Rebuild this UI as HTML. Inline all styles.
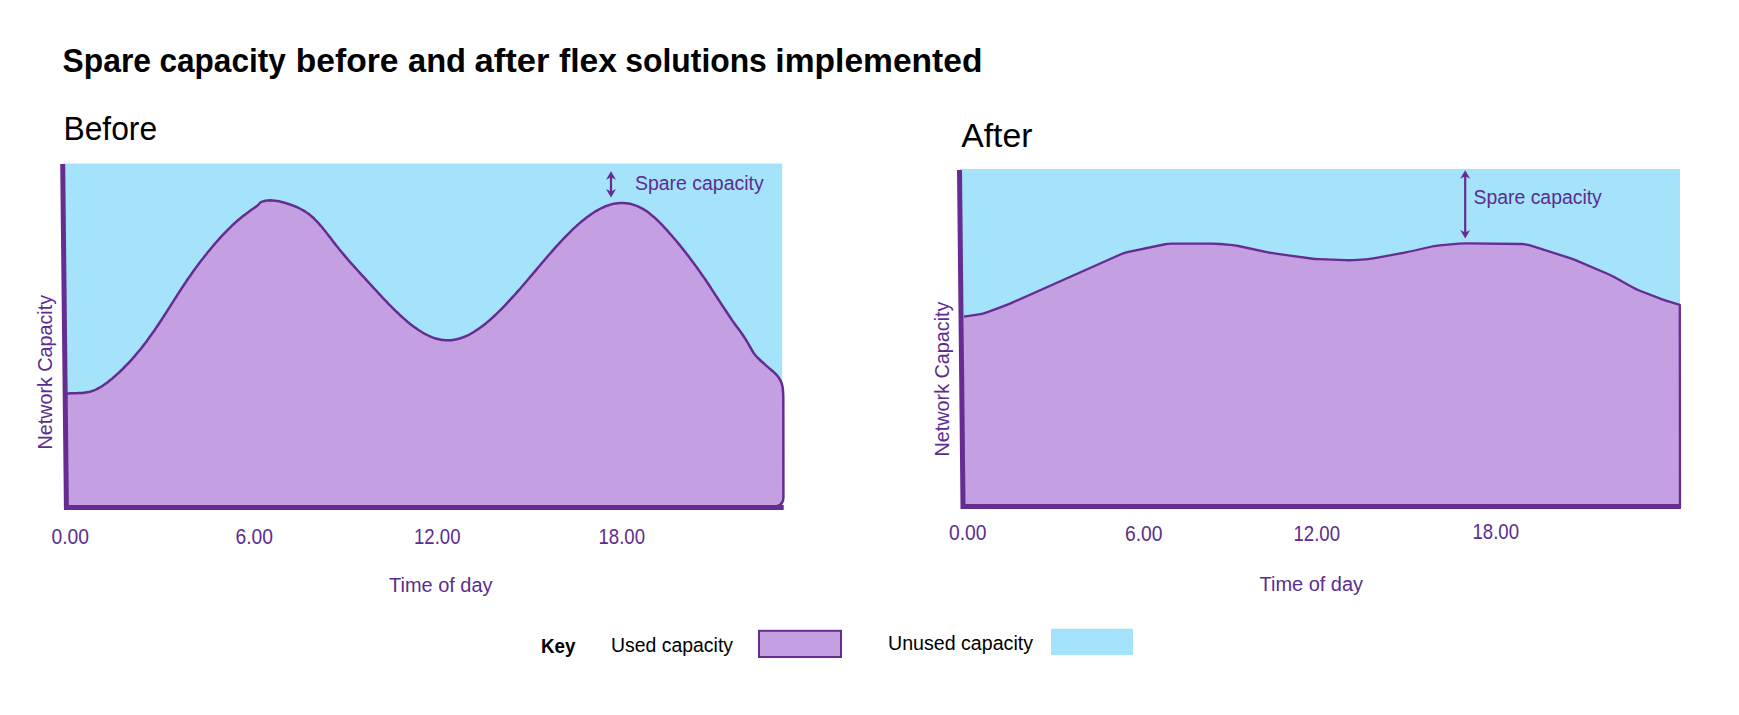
<!DOCTYPE html>
<html lang="en">
<head>
<meta charset="utf-8">
<title>Spare capacity before and after flex solutions implemented</title>
<style>
html,body{margin:0;padding:0;background:#fff;}
body{width:1739px;height:715px;overflow:hidden;font-family:"Liberation Sans",sans-serif;}
svg{display:block;}
</style>
</head>
<body>
<svg width="1739" height="715" viewBox="0 0 1739 715" font-family="'Liberation Sans', sans-serif">
<rect width="1739" height="715" fill="#fff"/>
<path d="M62.7,163.6 L782.2,163.4 L782.2,507 L66.4,507 Z" fill="#a5e3fa"/>
<path d="M66.0,393.6 C66.5,393.6 68.0,393.4 69.0,393.4 C70.0,393.3 71.0,393.3 72.0,393.2 C73.0,393.2 74.0,393.2 75.0,393.2 C76.0,393.2 77.0,393.1 78.0,393.1 C79.0,393.1 80.0,393.0 81.0,393.0 C82.0,392.9 83.0,392.9 84.0,392.7 C85.0,392.6 86.0,392.5 87.0,392.3 C88.0,392.1 89.0,391.9 90.0,391.7 C91.0,391.4 92.0,391.1 93.0,390.7 C94.0,390.4 95.0,390.0 96.0,389.5 C97.0,389.0 98.0,388.5 99.0,387.9 C100.0,387.4 101.0,386.8 102.0,386.2 C103.0,385.5 104.0,384.8 105.0,384.1 C106.0,383.4 107.0,382.7 108.0,381.9 C109.0,381.2 110.0,380.4 111.0,379.6 C112.0,378.8 113.0,377.9 114.0,377.1 C114.9,376.2 115.9,375.3 116.9,374.4 C117.9,373.5 118.9,372.6 119.9,371.7 C120.9,370.7 121.9,369.8 122.9,368.8 C123.9,367.8 124.9,366.8 125.9,365.7 C126.9,364.7 127.9,363.7 128.9,362.6 C129.9,361.5 130.9,360.4 131.9,359.3 C132.9,358.2 133.9,357.0 134.9,355.9 C135.9,354.7 136.9,353.5 137.9,352.3 C138.9,351.1 139.9,349.9 140.9,348.7 C141.9,347.4 142.9,346.1 143.9,344.8 C144.9,343.5 145.9,342.2 146.9,340.9 C147.9,339.5 148.9,338.2 149.9,336.8 C150.9,335.4 151.9,334.0 152.9,332.6 C153.9,331.2 154.9,329.7 155.9,328.2 C156.9,326.8 157.9,325.3 158.9,323.8 C159.9,322.3 160.9,320.7 161.9,319.2 C162.9,317.6 163.9,316.1 164.9,314.5 C165.9,313.0 166.9,311.4 167.9,309.8 C168.9,308.3 169.9,306.7 170.9,305.1 C171.9,303.5 172.9,301.9 173.9,300.4 C174.9,298.8 175.9,297.2 176.9,295.7 C177.9,294.1 178.9,292.6 179.9,291.0 C180.9,289.5 181.9,288.0 182.9,286.5 C183.9,284.9 184.9,283.4 185.9,282.0 C186.9,280.5 187.9,279.0 188.9,277.6 C189.9,276.2 190.9,274.7 191.9,273.3 C192.9,271.9 193.9,270.5 194.9,269.1 C195.9,267.8 196.9,266.4 197.9,265.1 C198.9,263.7 199.9,262.4 200.9,261.1 C201.9,259.8 202.9,258.5 203.9,257.2 C204.9,255.9 205.9,254.7 206.9,253.4 C207.9,252.2 208.9,250.9 209.9,249.7 C210.9,248.5 211.9,247.3 212.8,246.2 C213.8,245.0 214.8,243.8 215.8,242.7 C216.8,241.5 217.8,240.4 218.8,239.3 C219.8,238.2 220.8,237.1 221.8,236.0 C222.8,234.9 223.8,233.9 224.8,232.8 C225.8,231.8 226.8,230.8 227.8,229.8 C228.8,228.8 229.8,227.8 230.8,226.8 C231.8,225.9 232.8,224.9 233.8,224.0 C234.8,223.1 235.8,222.2 236.8,221.3 C237.8,220.4 238.8,219.5 239.8,218.7 C240.8,217.9 241.8,217.1 242.8,216.3 C243.8,215.5 244.8,214.7 245.8,213.9 C246.8,213.2 247.8,212.5 248.8,211.7 C249.8,211.0 250.8,210.3 251.8,209.6 C252.8,208.9 253.8,208.2 254.8,207.4 C255.8,206.7 256.8,206.0 257.8,205.2 C258.8,204.3 259.8,203.0 260.8,202.3 C261.8,201.6 262.8,201.5 263.8,201.2 C264.8,200.9 265.8,200.7 266.8,200.6 C267.8,200.4 268.8,200.4 269.8,200.3 C270.8,200.3 271.8,200.3 272.8,200.4 C273.8,200.5 274.8,200.6 275.8,200.8 C276.8,200.9 277.8,201.1 278.8,201.3 C279.8,201.5 280.8,201.8 281.8,202.1 C282.8,202.3 283.8,202.6 284.8,202.9 C285.8,203.2 286.8,203.5 287.8,203.8 C288.8,204.1 289.8,204.4 290.8,204.8 C291.8,205.1 292.8,205.5 293.8,205.9 C294.8,206.3 295.8,206.7 296.8,207.1 C297.8,207.5 298.8,208.0 299.8,208.5 C300.8,209.0 301.8,209.5 302.8,210.1 C303.8,210.7 304.8,211.3 305.8,212.0 C306.8,212.6 307.8,213.3 308.8,214.1 C309.8,214.9 310.8,215.7 311.8,216.5 C312.8,217.4 313.8,218.3 314.8,219.3 C315.8,220.3 316.8,221.3 317.8,222.4 C318.8,223.5 319.8,224.7 320.8,225.8 C321.8,227.0 322.8,228.2 323.8,229.5 C324.8,230.7 325.8,232.0 326.8,233.3 C327.8,234.5 328.8,235.9 329.8,237.1 C330.8,238.4 331.8,239.8 332.8,241.1 C333.8,242.3 334.8,243.6 335.8,244.9 C336.8,246.2 337.8,247.4 338.8,248.7 C339.8,249.9 340.8,251.1 341.8,252.3 C342.8,253.5 343.8,254.7 344.8,255.9 C345.8,257.1 346.8,258.2 347.8,259.4 C348.8,260.5 349.8,261.7 350.8,262.8 C351.8,263.9 352.8,265.1 353.8,266.2 C354.8,267.3 355.8,268.4 356.8,269.5 C357.8,270.6 358.8,271.7 359.8,272.8 C360.8,273.9 361.8,275.0 362.8,276.1 C363.8,277.1 364.8,278.2 365.8,279.3 C366.8,280.4 367.8,281.5 368.8,282.6 C369.8,283.7 370.8,284.8 371.8,285.9 C372.8,287.0 373.8,288.1 374.8,289.1 C375.8,290.2 376.8,291.3 377.8,292.4 C378.8,293.5 379.8,294.6 380.8,295.6 C381.8,296.7 382.8,297.8 383.8,298.8 C384.8,299.9 385.8,300.9 386.8,302.0 C387.8,303.0 388.8,304.1 389.8,305.1 C390.8,306.1 391.8,307.1 392.8,308.1 C393.8,309.1 394.8,310.1 395.8,311.1 C396.8,312.0 397.8,313.0 398.8,313.9 C399.8,314.9 400.8,315.8 401.8,316.7 C402.8,317.6 403.8,318.5 404.8,319.4 C405.8,320.3 406.8,321.1 407.8,322.0 C408.8,322.8 409.8,323.6 410.8,324.4 C411.8,325.2 412.8,325.9 413.8,326.7 C414.8,327.4 415.8,328.1 416.8,328.8 C417.8,329.5 418.8,330.2 419.8,330.8 C420.8,331.5 421.8,332.1 422.8,332.7 C423.8,333.3 424.8,333.8 425.8,334.3 C426.8,334.9 427.8,335.4 428.8,335.8 C429.8,336.3 430.8,336.7 431.8,337.1 C432.8,337.5 433.8,337.9 434.8,338.2 C435.8,338.5 436.8,338.8 437.8,339.0 C438.8,339.3 439.8,339.5 440.8,339.7 C441.8,339.9 442.8,340.0 443.8,340.1 C444.8,340.2 445.8,340.2 446.8,340.3 C447.8,340.3 448.8,340.3 449.8,340.2 C450.8,340.2 451.8,340.1 452.8,339.9 C453.8,339.8 454.8,339.6 455.8,339.4 C456.8,339.2 457.8,339.0 458.8,338.7 C459.8,338.4 460.8,338.1 461.8,337.8 C462.8,337.4 463.8,337.1 464.8,336.6 C465.8,336.2 466.8,335.8 467.8,335.3 C468.8,334.8 469.8,334.3 470.8,333.7 C471.8,333.2 472.8,332.6 473.8,332.0 C474.8,331.4 475.8,330.8 476.8,330.1 C477.8,329.4 478.8,328.7 479.8,328.0 C480.8,327.3 481.8,326.6 482.8,325.8 C483.8,325.0 484.8,324.2 485.8,323.4 C486.8,322.6 487.8,321.8 488.8,320.9 C489.8,320.0 490.8,319.2 491.8,318.3 C492.8,317.4 493.8,316.4 494.8,315.5 C495.8,314.6 496.8,313.6 497.8,312.6 C498.8,311.7 499.8,310.7 500.8,309.7 C501.8,308.7 502.8,307.6 503.8,306.6 C504.8,305.6 505.8,304.5 506.8,303.4 C507.8,302.4 508.8,301.3 509.8,300.2 C510.8,299.1 511.8,298.0 512.8,296.9 C513.8,295.8 514.8,294.7 515.8,293.6 C516.8,292.4 517.8,291.3 518.8,290.2 C519.8,289.0 520.8,287.9 521.8,286.7 C522.8,285.5 523.8,284.4 524.8,283.2 C525.8,282.0 526.8,280.9 527.8,279.7 C528.8,278.5 529.8,277.3 530.8,276.2 C531.8,275.0 532.8,273.8 533.8,272.6 C534.8,271.4 535.8,270.2 536.8,269.1 C537.8,267.9 538.8,266.7 539.8,265.5 C540.8,264.3 541.8,263.2 542.8,262.0 C543.8,260.8 544.8,259.7 545.8,258.5 C546.8,257.3 547.8,256.2 548.8,255.0 C549.8,253.9 550.8,252.7 551.8,251.6 C552.8,250.5 553.8,249.3 554.8,248.2 C555.8,247.1 556.8,246.0 557.8,244.9 C558.8,243.8 559.8,242.7 560.8,241.6 C561.8,240.5 562.8,239.5 563.8,238.4 C564.8,237.4 565.8,236.4 566.8,235.3 C567.8,234.3 568.8,233.3 569.8,232.3 C570.8,231.3 571.8,230.4 572.8,229.4 C573.8,228.4 574.8,227.5 575.8,226.6 C576.8,225.7 577.8,224.8 578.8,223.9 C579.8,223.0 580.8,222.2 581.8,221.3 C582.8,220.5 583.8,219.7 584.8,218.9 C585.8,218.1 586.8,217.3 587.8,216.6 C588.8,215.9 589.8,215.1 590.8,214.4 C591.8,213.8 592.8,213.1 593.8,212.5 C594.8,211.8 595.8,211.2 596.8,210.6 C597.8,210.1 598.8,209.5 599.8,209.0 C600.8,208.5 601.8,208.0 602.8,207.5 C603.8,207.1 604.8,206.6 605.8,206.2 C606.8,205.8 607.8,205.5 608.8,205.2 C609.8,204.8 610.8,204.5 611.8,204.3 C612.8,204.0 613.8,203.8 614.8,203.6 C615.8,203.5 616.8,203.3 617.8,203.2 C618.8,203.1 619.8,203.0 620.8,203.0 C621.8,203.0 622.8,203.0 623.8,203.0 C624.8,203.1 625.8,203.2 626.8,203.3 C627.8,203.4 628.8,203.6 629.8,203.8 C630.8,204.0 631.8,204.3 632.8,204.6 C633.8,204.9 634.8,205.2 635.8,205.6 C636.8,205.9 637.8,206.4 638.8,206.8 C639.8,207.3 640.8,207.8 641.8,208.3 C642.8,208.9 643.8,209.4 644.8,210.1 C645.8,210.7 646.8,211.4 647.8,212.1 C648.8,212.8 649.8,213.6 650.8,214.4 C651.8,215.2 652.8,216.0 653.8,216.9 C654.8,217.8 655.8,218.7 656.8,219.6 C657.8,220.6 658.8,221.6 659.8,222.6 C660.8,223.6 661.8,224.6 662.8,225.7 C663.8,226.8 664.8,227.8 665.8,228.9 C666.8,230.0 667.8,231.2 668.8,232.3 C669.8,233.4 670.8,234.6 671.8,235.7 C672.8,236.9 673.8,238.1 674.8,239.2 C675.8,240.4 676.8,241.6 677.8,242.8 C678.8,244.0 679.8,245.3 680.8,246.5 C681.8,247.7 682.8,249.0 683.8,250.2 C684.8,251.5 685.8,252.8 686.8,254.1 C687.8,255.3 688.8,256.6 689.8,258.0 C690.8,259.3 691.8,260.6 692.8,262.0 C693.8,263.3 694.8,264.7 695.8,266.0 C696.8,267.4 697.8,268.8 698.8,270.2 C699.8,271.6 700.8,273.0 701.8,274.5 C702.8,275.9 703.8,277.4 704.8,278.8 C705.8,280.3 706.8,281.8 707.8,283.3 C708.8,284.8 709.8,286.3 710.8,287.8 C711.8,289.4 712.8,290.9 713.8,292.4 C714.8,294.0 715.8,295.5 716.8,297.0 C717.8,298.6 718.8,300.1 719.8,301.6 C720.8,303.2 721.8,304.7 722.8,306.2 C723.8,307.8 724.8,309.3 725.8,310.8 C726.8,312.3 727.8,313.8 728.8,315.3 C729.8,316.8 730.8,318.2 731.8,319.7 C732.8,321.1 733.8,322.6 734.8,324.0 C735.8,325.4 736.8,326.8 737.8,328.1 C738.8,329.5 739.3,329.9 740.8,332.1 C742.3,334.3 744.7,337.7 746.8,341.2 C748.9,344.7 751.7,350.1 753.6,352.9 C755.5,355.7 755.8,355.8 758.0,358.0 C760.2,360.2 764.0,363.7 767.0,366.4 C770.0,369.1 773.7,371.9 775.9,374.2 C778.1,376.5 779.3,378.2 780.4,380.3 C781.5,382.4 782.1,384.2 782.6,387.0 C783.1,389.8 783.2,395.3 783.3,397.0 L783.4,497 Q783.4,505 777,506 L66,507 Z" fill="#c49fe2"/>
<path d="M66.0,393.6 C66.5,393.6 68.0,393.4 69.0,393.4 C70.0,393.3 71.0,393.3 72.0,393.2 C73.0,393.2 74.0,393.2 75.0,393.2 C76.0,393.2 77.0,393.1 78.0,393.1 C79.0,393.1 80.0,393.0 81.0,393.0 C82.0,392.9 83.0,392.9 84.0,392.7 C85.0,392.6 86.0,392.5 87.0,392.3 C88.0,392.1 89.0,391.9 90.0,391.7 C91.0,391.4 92.0,391.1 93.0,390.7 C94.0,390.4 95.0,390.0 96.0,389.5 C97.0,389.0 98.0,388.5 99.0,387.9 C100.0,387.4 101.0,386.8 102.0,386.2 C103.0,385.5 104.0,384.8 105.0,384.1 C106.0,383.4 107.0,382.7 108.0,381.9 C109.0,381.2 110.0,380.4 111.0,379.6 C112.0,378.8 113.0,377.9 114.0,377.1 C114.9,376.2 115.9,375.3 116.9,374.4 C117.9,373.5 118.9,372.6 119.9,371.7 C120.9,370.7 121.9,369.8 122.9,368.8 C123.9,367.8 124.9,366.8 125.9,365.7 C126.9,364.7 127.9,363.7 128.9,362.6 C129.9,361.5 130.9,360.4 131.9,359.3 C132.9,358.2 133.9,357.0 134.9,355.9 C135.9,354.7 136.9,353.5 137.9,352.3 C138.9,351.1 139.9,349.9 140.9,348.7 C141.9,347.4 142.9,346.1 143.9,344.8 C144.9,343.5 145.9,342.2 146.9,340.9 C147.9,339.5 148.9,338.2 149.9,336.8 C150.9,335.4 151.9,334.0 152.9,332.6 C153.9,331.2 154.9,329.7 155.9,328.2 C156.9,326.8 157.9,325.3 158.9,323.8 C159.9,322.3 160.9,320.7 161.9,319.2 C162.9,317.6 163.9,316.1 164.9,314.5 C165.9,313.0 166.9,311.4 167.9,309.8 C168.9,308.3 169.9,306.7 170.9,305.1 C171.9,303.5 172.9,301.9 173.9,300.4 C174.9,298.8 175.9,297.2 176.9,295.7 C177.9,294.1 178.9,292.6 179.9,291.0 C180.9,289.5 181.9,288.0 182.9,286.5 C183.9,284.9 184.9,283.4 185.9,282.0 C186.9,280.5 187.9,279.0 188.9,277.6 C189.9,276.2 190.9,274.7 191.9,273.3 C192.9,271.9 193.9,270.5 194.9,269.1 C195.9,267.8 196.9,266.4 197.9,265.1 C198.9,263.7 199.9,262.4 200.9,261.1 C201.9,259.8 202.9,258.5 203.9,257.2 C204.9,255.9 205.9,254.7 206.9,253.4 C207.9,252.2 208.9,250.9 209.9,249.7 C210.9,248.5 211.9,247.3 212.8,246.2 C213.8,245.0 214.8,243.8 215.8,242.7 C216.8,241.5 217.8,240.4 218.8,239.3 C219.8,238.2 220.8,237.1 221.8,236.0 C222.8,234.9 223.8,233.9 224.8,232.8 C225.8,231.8 226.8,230.8 227.8,229.8 C228.8,228.8 229.8,227.8 230.8,226.8 C231.8,225.9 232.8,224.9 233.8,224.0 C234.8,223.1 235.8,222.2 236.8,221.3 C237.8,220.4 238.8,219.5 239.8,218.7 C240.8,217.9 241.8,217.1 242.8,216.3 C243.8,215.5 244.8,214.7 245.8,213.9 C246.8,213.2 247.8,212.5 248.8,211.7 C249.8,211.0 250.8,210.3 251.8,209.6 C252.8,208.9 253.8,208.2 254.8,207.4 C255.8,206.7 256.8,206.0 257.8,205.2 C258.8,204.3 259.8,203.0 260.8,202.3 C261.8,201.6 262.8,201.5 263.8,201.2 C264.8,200.9 265.8,200.7 266.8,200.6 C267.8,200.4 268.8,200.4 269.8,200.3 C270.8,200.3 271.8,200.3 272.8,200.4 C273.8,200.5 274.8,200.6 275.8,200.8 C276.8,200.9 277.8,201.1 278.8,201.3 C279.8,201.5 280.8,201.8 281.8,202.1 C282.8,202.3 283.8,202.6 284.8,202.9 C285.8,203.2 286.8,203.5 287.8,203.8 C288.8,204.1 289.8,204.4 290.8,204.8 C291.8,205.1 292.8,205.5 293.8,205.9 C294.8,206.3 295.8,206.7 296.8,207.1 C297.8,207.5 298.8,208.0 299.8,208.5 C300.8,209.0 301.8,209.5 302.8,210.1 C303.8,210.7 304.8,211.3 305.8,212.0 C306.8,212.6 307.8,213.3 308.8,214.1 C309.8,214.9 310.8,215.7 311.8,216.5 C312.8,217.4 313.8,218.3 314.8,219.3 C315.8,220.3 316.8,221.3 317.8,222.4 C318.8,223.5 319.8,224.7 320.8,225.8 C321.8,227.0 322.8,228.2 323.8,229.5 C324.8,230.7 325.8,232.0 326.8,233.3 C327.8,234.5 328.8,235.9 329.8,237.1 C330.8,238.4 331.8,239.8 332.8,241.1 C333.8,242.3 334.8,243.6 335.8,244.9 C336.8,246.2 337.8,247.4 338.8,248.7 C339.8,249.9 340.8,251.1 341.8,252.3 C342.8,253.5 343.8,254.7 344.8,255.9 C345.8,257.1 346.8,258.2 347.8,259.4 C348.8,260.5 349.8,261.7 350.8,262.8 C351.8,263.9 352.8,265.1 353.8,266.2 C354.8,267.3 355.8,268.4 356.8,269.5 C357.8,270.6 358.8,271.7 359.8,272.8 C360.8,273.9 361.8,275.0 362.8,276.1 C363.8,277.1 364.8,278.2 365.8,279.3 C366.8,280.4 367.8,281.5 368.8,282.6 C369.8,283.7 370.8,284.8 371.8,285.9 C372.8,287.0 373.8,288.1 374.8,289.1 C375.8,290.2 376.8,291.3 377.8,292.4 C378.8,293.5 379.8,294.6 380.8,295.6 C381.8,296.7 382.8,297.8 383.8,298.8 C384.8,299.9 385.8,300.9 386.8,302.0 C387.8,303.0 388.8,304.1 389.8,305.1 C390.8,306.1 391.8,307.1 392.8,308.1 C393.8,309.1 394.8,310.1 395.8,311.1 C396.8,312.0 397.8,313.0 398.8,313.9 C399.8,314.9 400.8,315.8 401.8,316.7 C402.8,317.6 403.8,318.5 404.8,319.4 C405.8,320.3 406.8,321.1 407.8,322.0 C408.8,322.8 409.8,323.6 410.8,324.4 C411.8,325.2 412.8,325.9 413.8,326.7 C414.8,327.4 415.8,328.1 416.8,328.8 C417.8,329.5 418.8,330.2 419.8,330.8 C420.8,331.5 421.8,332.1 422.8,332.7 C423.8,333.3 424.8,333.8 425.8,334.3 C426.8,334.9 427.8,335.4 428.8,335.8 C429.8,336.3 430.8,336.7 431.8,337.1 C432.8,337.5 433.8,337.9 434.8,338.2 C435.8,338.5 436.8,338.8 437.8,339.0 C438.8,339.3 439.8,339.5 440.8,339.7 C441.8,339.9 442.8,340.0 443.8,340.1 C444.8,340.2 445.8,340.2 446.8,340.3 C447.8,340.3 448.8,340.3 449.8,340.2 C450.8,340.2 451.8,340.1 452.8,339.9 C453.8,339.8 454.8,339.6 455.8,339.4 C456.8,339.2 457.8,339.0 458.8,338.7 C459.8,338.4 460.8,338.1 461.8,337.8 C462.8,337.4 463.8,337.1 464.8,336.6 C465.8,336.2 466.8,335.8 467.8,335.3 C468.8,334.8 469.8,334.3 470.8,333.7 C471.8,333.2 472.8,332.6 473.8,332.0 C474.8,331.4 475.8,330.8 476.8,330.1 C477.8,329.4 478.8,328.7 479.8,328.0 C480.8,327.3 481.8,326.6 482.8,325.8 C483.8,325.0 484.8,324.2 485.8,323.4 C486.8,322.6 487.8,321.8 488.8,320.9 C489.8,320.0 490.8,319.2 491.8,318.3 C492.8,317.4 493.8,316.4 494.8,315.5 C495.8,314.6 496.8,313.6 497.8,312.6 C498.8,311.7 499.8,310.7 500.8,309.7 C501.8,308.7 502.8,307.6 503.8,306.6 C504.8,305.6 505.8,304.5 506.8,303.4 C507.8,302.4 508.8,301.3 509.8,300.2 C510.8,299.1 511.8,298.0 512.8,296.9 C513.8,295.8 514.8,294.7 515.8,293.6 C516.8,292.4 517.8,291.3 518.8,290.2 C519.8,289.0 520.8,287.9 521.8,286.7 C522.8,285.5 523.8,284.4 524.8,283.2 C525.8,282.0 526.8,280.9 527.8,279.7 C528.8,278.5 529.8,277.3 530.8,276.2 C531.8,275.0 532.8,273.8 533.8,272.6 C534.8,271.4 535.8,270.2 536.8,269.1 C537.8,267.9 538.8,266.7 539.8,265.5 C540.8,264.3 541.8,263.2 542.8,262.0 C543.8,260.8 544.8,259.7 545.8,258.5 C546.8,257.3 547.8,256.2 548.8,255.0 C549.8,253.9 550.8,252.7 551.8,251.6 C552.8,250.5 553.8,249.3 554.8,248.2 C555.8,247.1 556.8,246.0 557.8,244.9 C558.8,243.8 559.8,242.7 560.8,241.6 C561.8,240.5 562.8,239.5 563.8,238.4 C564.8,237.4 565.8,236.4 566.8,235.3 C567.8,234.3 568.8,233.3 569.8,232.3 C570.8,231.3 571.8,230.4 572.8,229.4 C573.8,228.4 574.8,227.5 575.8,226.6 C576.8,225.7 577.8,224.8 578.8,223.9 C579.8,223.0 580.8,222.2 581.8,221.3 C582.8,220.5 583.8,219.7 584.8,218.9 C585.8,218.1 586.8,217.3 587.8,216.6 C588.8,215.9 589.8,215.1 590.8,214.4 C591.8,213.8 592.8,213.1 593.8,212.5 C594.8,211.8 595.8,211.2 596.8,210.6 C597.8,210.1 598.8,209.5 599.8,209.0 C600.8,208.5 601.8,208.0 602.8,207.5 C603.8,207.1 604.8,206.6 605.8,206.2 C606.8,205.8 607.8,205.5 608.8,205.2 C609.8,204.8 610.8,204.5 611.8,204.3 C612.8,204.0 613.8,203.8 614.8,203.6 C615.8,203.5 616.8,203.3 617.8,203.2 C618.8,203.1 619.8,203.0 620.8,203.0 C621.8,203.0 622.8,203.0 623.8,203.0 C624.8,203.1 625.8,203.2 626.8,203.3 C627.8,203.4 628.8,203.6 629.8,203.8 C630.8,204.0 631.8,204.3 632.8,204.6 C633.8,204.9 634.8,205.2 635.8,205.6 C636.8,205.9 637.8,206.4 638.8,206.8 C639.8,207.3 640.8,207.8 641.8,208.3 C642.8,208.9 643.8,209.4 644.8,210.1 C645.8,210.7 646.8,211.4 647.8,212.1 C648.8,212.8 649.8,213.6 650.8,214.4 C651.8,215.2 652.8,216.0 653.8,216.9 C654.8,217.8 655.8,218.7 656.8,219.6 C657.8,220.6 658.8,221.6 659.8,222.6 C660.8,223.6 661.8,224.6 662.8,225.7 C663.8,226.8 664.8,227.8 665.8,228.9 C666.8,230.0 667.8,231.2 668.8,232.3 C669.8,233.4 670.8,234.6 671.8,235.7 C672.8,236.9 673.8,238.1 674.8,239.2 C675.8,240.4 676.8,241.6 677.8,242.8 C678.8,244.0 679.8,245.3 680.8,246.5 C681.8,247.7 682.8,249.0 683.8,250.2 C684.8,251.5 685.8,252.8 686.8,254.1 C687.8,255.3 688.8,256.6 689.8,258.0 C690.8,259.3 691.8,260.6 692.8,262.0 C693.8,263.3 694.8,264.7 695.8,266.0 C696.8,267.4 697.8,268.8 698.8,270.2 C699.8,271.6 700.8,273.0 701.8,274.5 C702.8,275.9 703.8,277.4 704.8,278.8 C705.8,280.3 706.8,281.8 707.8,283.3 C708.8,284.8 709.8,286.3 710.8,287.8 C711.8,289.4 712.8,290.9 713.8,292.4 C714.8,294.0 715.8,295.5 716.8,297.0 C717.8,298.6 718.8,300.1 719.8,301.6 C720.8,303.2 721.8,304.7 722.8,306.2 C723.8,307.8 724.8,309.3 725.8,310.8 C726.8,312.3 727.8,313.8 728.8,315.3 C729.8,316.8 730.8,318.2 731.8,319.7 C732.8,321.1 733.8,322.6 734.8,324.0 C735.8,325.4 736.8,326.8 737.8,328.1 C738.8,329.5 739.3,329.9 740.8,332.1 C742.3,334.3 744.7,337.7 746.8,341.2 C748.9,344.7 751.7,350.1 753.6,352.9 C755.5,355.7 755.8,355.8 758.0,358.0 C760.2,360.2 764.0,363.7 767.0,366.4 C770.0,369.1 773.7,371.9 775.9,374.2 C778.1,376.5 779.3,378.2 780.4,380.3 C781.5,382.4 782.1,384.2 782.6,387.0 C783.1,389.8 783.2,395.3 783.3,397.0 L783.4,497 Q783.4,505 777,506" fill="none" stroke="#662d91" stroke-width="2.5" stroke-linejoin="round"/>
<path d="M62.7,164 L66.4,507.5 L783.7,507.6" fill="none" stroke="#662d91" stroke-width="5" stroke-linejoin="miter"/>
<path d="M611.0,176.7 V192.1" stroke="#662d91" stroke-width="2.2" fill="none"/><path d="M611.0,171.2 L616.0,179.8 L611.0,177.2 L606.0,179.8 Z M611.0,197.6 L616.0,189.0 L611.0,191.6 L606.0,189.0 Z" fill="#662d91"/>
<path d="M959.5,169 L1680,169 L1680,507 L963,507 Z" fill="#a5e3fa"/>
<path d="M963.9,316.7 L979.0,314.3 Q983.0,313.7 986.8,312.3 L1003.0,306.4 Q1006.8,305.0 1010.5,303.4 L1120.9,254.3 Q1124.6,252.7 1128.5,251.9 L1163.9,244.5 Q1167.8,243.7 1171.8,243.7 L1211.8,243.7 Q1215.8,243.7 1219.8,244.0 L1230.5,244.9 Q1234.5,245.2 1238.4,246.0 L1268.0,252.3 Q1271.9,253.1 1275.9,253.7 L1311.0,258.5 Q1315.0,259.1 1319.0,259.2 L1345.5,260.2 Q1349.5,260.3 1353.5,260.1 L1365.6,259.3 Q1369.6,259.1 1373.5,258.4 L1404.6,252.6 Q1408.5,251.9 1412.4,251.0 L1431.9,246.5 Q1435.8,245.6 1439.8,245.3 L1459.0,243.6 Q1463.0,243.3 1467.0,243.3 L1521.5,244.0 Q1525.5,244.0 1529.3,245.2 L1568.5,257.6 Q1572.3,258.8 1576.0,260.4 L1607.4,273.7 Q1611.1,275.3 1614.6,277.3 L1632.0,287.0 Q1635.5,289.0 1639.2,290.5 L1657.7,297.6 Q1661.4,299.1 1665.2,300.3 L1679.8,304.8 L1680,507 L963,507 Z" fill="#c49fe2"/>
<path d="M963.9,316.7 L979.0,314.3 Q983.0,313.7 986.8,312.3 L1003.0,306.4 Q1006.8,305.0 1010.5,303.4 L1120.9,254.3 Q1124.6,252.7 1128.5,251.9 L1163.9,244.5 Q1167.8,243.7 1171.8,243.7 L1211.8,243.7 Q1215.8,243.7 1219.8,244.0 L1230.5,244.9 Q1234.5,245.2 1238.4,246.0 L1268.0,252.3 Q1271.9,253.1 1275.9,253.7 L1311.0,258.5 Q1315.0,259.1 1319.0,259.2 L1345.5,260.2 Q1349.5,260.3 1353.5,260.1 L1365.6,259.3 Q1369.6,259.1 1373.5,258.4 L1404.6,252.6 Q1408.5,251.9 1412.4,251.0 L1431.9,246.5 Q1435.8,245.6 1439.8,245.3 L1459.0,243.6 Q1463.0,243.3 1467.0,243.3 L1521.5,244.0 Q1525.5,244.0 1529.3,245.2 L1568.5,257.6 Q1572.3,258.8 1576.0,260.4 L1607.4,273.7 Q1611.1,275.3 1614.6,277.3 L1632.0,287.0 Q1635.5,289.0 1639.2,290.5 L1657.7,297.6 Q1661.4,299.1 1665.2,300.3 L1679.8,304.8 L1680,507" fill="none" stroke="#662d91" stroke-width="2.3" stroke-linejoin="round"/>
<path d="M959.5,170 L963,506.5 L1681,506.5" fill="none" stroke="#662d91" stroke-width="5" stroke-linejoin="miter"/>
<path d="M1465.2,175.7 V233.1" stroke="#662d91" stroke-width="2.2" fill="none"/><path d="M1465.2,170.2 L1470.2,178.8 L1465.2,176.2 L1460.2,178.8 Z M1465.2,238.6 L1470.2,230.0 L1465.2,232.6 L1460.2,230.0 Z" fill="#662d91"/>
<rect x="759" y="630.8" width="82" height="26.2" fill="#c49fe2" stroke="#662d91" stroke-width="2"/>
<rect x="1051" y="628.7" width="82" height="26.2" fill="#a5e3fa"/>
<text y="71.7" font-size="33" font-weight="bold" fill="#000"><tspan x="62.60" textLength="88.40" lengthAdjust="spacingAndGlyphs">Spare</tspan> <tspan x="159.45" textLength="126.38" lengthAdjust="spacingAndGlyphs">capacity</tspan> <tspan x="295.82" textLength="102.64" lengthAdjust="spacingAndGlyphs">before</tspan> <tspan x="408.02" textLength="57.98" lengthAdjust="spacingAndGlyphs">and</tspan> <tspan x="474.50" textLength="75.03" lengthAdjust="spacingAndGlyphs">after</tspan> <tspan x="559.00" textLength="58.07" lengthAdjust="spacingAndGlyphs">flex</tspan> <tspan x="625.36" textLength="141.46" lengthAdjust="spacingAndGlyphs">solutions</tspan> <tspan x="775.36" textLength="207.10" lengthAdjust="spacingAndGlyphs">implemented</tspan></text>
<text x="63.5" y="139.9" font-size="32.7" fill="#000" textLength="93.6" lengthAdjust="spacingAndGlyphs">Before</text>
<text x="961.2" y="147.2" font-size="33.6" fill="#000" textLength="71.3" lengthAdjust="spacingAndGlyphs">After</text>
<text x="635.0" y="189.7" font-size="20" fill="#5c2d91" textLength="128.7" lengthAdjust="spacingAndGlyphs">Spare capacity</text>
<text x="51.5" y="543.5" font-size="22" fill="#5c2d91" textLength="37.5" lengthAdjust="spacingAndGlyphs">0.00</text>
<text x="235.5" y="543.5" font-size="22" fill="#5c2d91" textLength="37.5" lengthAdjust="spacingAndGlyphs">6.00</text>
<text x="414.0" y="543.5" font-size="22" fill="#5c2d91" textLength="46.5" lengthAdjust="spacingAndGlyphs">12.00</text>
<text x="598.5" y="543.5" font-size="22" fill="#5c2d91" textLength="46.5" lengthAdjust="spacingAndGlyphs">18.00</text>
<text x="389.0" y="591.5" font-size="20" fill="#5c2d91" textLength="103.5" lengthAdjust="spacingAndGlyphs">Time of day</text>
<text x="51.5" y="449.5" font-size="20" fill="#5c2d91" textLength="154.5" lengthAdjust="spacingAndGlyphs" transform="rotate(-90 51.5 449.5)">Network Capacity</text>
<text x="1473.5" y="204.0" font-size="20" fill="#5c2d91" textLength="128.3" lengthAdjust="spacingAndGlyphs">Spare capacity</text>
<text x="949.0" y="539.7" font-size="22" fill="#5c2d91" textLength="37.5" lengthAdjust="spacingAndGlyphs">0.00</text>
<text x="1125.0" y="540.9" font-size="22" fill="#5c2d91" textLength="37.5" lengthAdjust="spacingAndGlyphs">6.00</text>
<text x="1293.5" y="541.4" font-size="22" fill="#5c2d91" textLength="46.5" lengthAdjust="spacingAndGlyphs">12.00</text>
<text x="1472.5" y="539.4" font-size="22" fill="#5c2d91" textLength="46.5" lengthAdjust="spacingAndGlyphs">18.00</text>
<text x="1259.5" y="591.4" font-size="20" fill="#5c2d91" textLength="103.5" lengthAdjust="spacingAndGlyphs">Time of day</text>
<text x="948.6" y="456.5" font-size="20" fill="#5c2d91" textLength="155.0" lengthAdjust="spacingAndGlyphs" transform="rotate(-90 948.6 456.5)">Network Capacity</text>
<text x="541.0" y="652.9" font-size="20" fill="#000" font-weight="bold" textLength="34.5" lengthAdjust="spacingAndGlyphs">Key</text>
<text x="611.0" y="651.7" font-size="20" fill="#000" textLength="122.0" lengthAdjust="spacingAndGlyphs">Used capacity</text>
<text x="888.0" y="649.6" font-size="20" fill="#000" textLength="145.0" lengthAdjust="spacingAndGlyphs">Unused capacity</text>
</svg>
</body>
</html>
